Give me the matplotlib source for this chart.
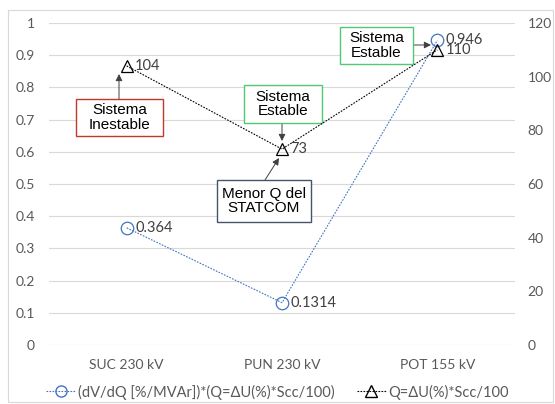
import matplotlib
matplotlib.use("Agg")
import matplotlib.pyplot as plt
from matplotlib.patches import Rectangle
from matplotlib.lines import Line2D

# datos
barras = ["SUC 230 kV", "PUN 230 kV", "POT 155 kV"]
dvdq = [0.364, 0.1314, 0.946]
q_mvar = [104, 73, 110]
etiq_dvdq = ["0.364", "0.1314", "0.946"]
etiq_q = ["104", "73", "110"]
ley1 = "(dV/dQ [%/MVAr])*(Q=ΔU(%)*Scc/100)"
ley2 = "Q=ΔU(%)*Scc/100"

gris = "#595959"
azul = "#4472C4"
tick_font = "Lato"
box_font = "Liberation Sans"

fig = plt.figure(figsize=(5.55, 4.04), dpi=100)
fig.patches.append(Rectangle((8/555, 2/404), 545/555, 392/404, transform=fig.transFigure,
                             fill=False, edgecolor="#d9d9d9", lw=0.8))
ax = fig.add_axes([49/555, 59/404, 466/555, 322/404])
ax2 = ax.twinx()

x = list(range(len(barras)))
ax.plot(x, dvdq, color=azul, lw=0.8, ls=(0, (1.5, 1.2)), marker="o", ms=9,
        mfc="none", mec=azul, mew=0.9, zorder=3)
ax2.plot(x, q_mvar, color="black", lw=0.8, ls=(0, (1.5, 1.2)), marker="^", ms=9,
         mfc="none", mec="black", mew=0.9, zorder=3)

for xi, v, t in zip(x, dvdq, etiq_dvdq):
    ax.annotate(t, (xi, v), xytext=(6, 0), textcoords="offset points", va="center",
                ha="left", fontsize=10.5, color="#404040", family=tick_font)
for xi, v, t in zip(x, q_mvar, etiq_q):
    ax2.annotate(t, (xi, v), xytext=(6, 0), textcoords="offset points", va="center",
                 ha="left", fontsize=10.5, color="#404040", family=tick_font)

ax.set_xlim(-0.5, 2.5)
ax.set_ylim(0, 1)
ax2.set_ylim(0, 120)
ax.set_yticks([i / 10 for i in range(11)])
ax.set_yticklabels(["0", "0.1", "0.2", "0.3", "0.4", "0.5", "0.6", "0.7", "0.8", "0.9", "1"])
ax2.set_yticks(range(0, 121, 20))
ax.set_xticks(x)
ax.set_xticklabels(barras)
ax.grid(axis="y", color="#d9d9d9", lw=0.8)
ax.set_axisbelow(True)
for a in (ax, ax2):
    for s in a.spines.values():
        s.set_visible(False)
    a.tick_params(length=0, labelsize=10, labelcolor=gris)
    for lab in a.get_xticklabels() + a.get_yticklabels():
        lab.set_family(tick_font)
ax.tick_params(axis="y", pad=10)
ax2.tick_params(axis="y", pad=9)
ax.tick_params(axis="x", pad=10)


# cuadros de texto (posiciones en pixeles de la figura)
def px2d(px, py):
    return (px - 49) / (466 / 3) - 0.5, (345 - py) / 322


def cuadro(x0, y0, x1, y1, txt, borde):
    a0, b1 = px2d(x0, y1)
    a1, b0 = px2d(x1, y0)
    ax.add_patch(Rectangle((a0, b1), a1 - a0, b0 - b1, fc="white", ec=borde,
                           lw=1.0, zorder=5))
    ax.text((a0 + a1) / 2, (b0 + b1) / 2, txt, ha="center", va="center",
            fontsize=11, family=box_font, linespacing=1.05, zorder=6)


def flecha(x0, y0, x1, y1):
    p0 = px2d(x0, y0)
    p1 = px2d(x1, y1)
    ax.annotate("", xy=p1, xytext=p0, zorder=4,
                arrowprops=dict(arrowstyle="-|>", color="#404040", lw=0.7,
                                mutation_scale=10, shrinkA=0, shrinkB=0))


cuadro(76, 99, 163, 136, "Sistema\nInestable", "#C0392B")
flecha(119, 99, 119, 74)
cuadro(244, 85, 322, 123, "Sistema\nEstable", "#50C878")
flecha(282, 123, 282, 141)
cuadro(217, 180, 311, 222, "Menor Q del\nSTATCOM", "#44546A")
flecha(265, 180, 279, 158)
cuadro(340, 27, 413, 64, "Sistema\nEstable", "#50C878")
flecha(413, 45, 431, 45)

h1 = Line2D([], [], color=azul, lw=0.8, ls=(0, (1.5, 1.2)), marker="o", ms=8,
            mfc="none", mec=azul)
h2 = Line2D([], [], color="black", lw=0.8, ls=(0, (1.5, 1.2)), marker="^", ms=8,
            mfc="none", mec="black")
fig.legend([h1, h2], [ley1, ley2], loc="center", bbox_to_anchor=(0.5, 12/404),
           ncol=2, frameon=False, handlelength=2.0, handletextpad=0.2,
           columnspacing=1.5, prop=dict(family=tick_font, size=10.5), labelcolor=gris)

fig.savefig("out.png", dpi=100)
